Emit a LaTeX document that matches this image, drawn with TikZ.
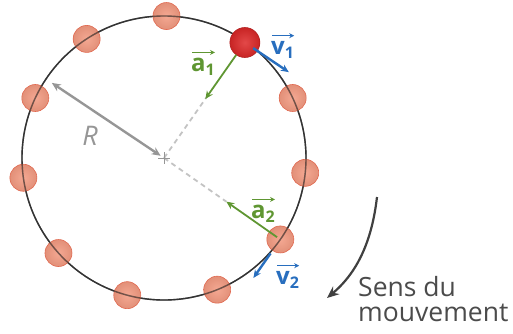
\documentclass[tikz,border=0pt]{standalone}
\usepackage{fontspec}
\setmainfont{Open Sans}
\usetikzlibrary{arrows.meta,calc}
\definecolor{vgreen}{RGB}{95,150,50}
\definecolor{vblue}{RGB}{40,110,190}
\definecolor{rgray}{RGB}{150,150,150}
\definecolor{dgray}{RGB}{195,195,195}
\definecolor{ballfill}{RGB}{240,135,105}
\definecolor{balledge}{RGB}{225,105,80}
\definecolor{redball}{RGB}{222,40,40}
\definecolor{txtgray}{RGB}{75,75,75}
\begin{document}
\begin{tikzpicture}[x=1pt,y=-1pt,
  ball/.style={circle,minimum size=27pt,inner sep=0pt,inner color=ballfill!85!white,outer color=ballfill!92!black,draw=balledge,line width=0.6pt,fill opacity=0.85},
  redb/.style={circle,minimum size=30pt,inner sep=0pt,inner color=redball!85!white,outer color=redball!90!black,draw=redball!80!black,line width=0.6pt},
  accel/.style={vgreen,line width=1.8pt,-{Stealth[length=8pt,width=7pt]}},
  veloc/.style={vblue,line width=2.4pt,-{Stealth[length=8pt,width=7pt]}},
  radial/.style={dgray,line width=1.8pt,dash pattern=on 5pt off 4pt},
  vlabel/.style={inner sep=0pt,anchor=base west,font=\fontsize{24}{24}\selectfont\bfseries},
  overarrow/.style={line width=1.5pt,-{Stealth[length=5pt,width=5pt]}}
]
\useasboundingbox (0,0) rectangle (513,333);
\coordinate (C) at (164,158);
% dashed radial lines
\draw[radial] (C) -- ($(C)+(-55:74)$);
\draw[radial] (C) -- ($(C)+(35:76)$);
% trajectory
\draw[black!80,line width=1.4pt] (C) circle[radius=142];
% balls
\foreach \a/\n in {89/b1,25/b3,-6/b4,-35/b5,-68/b6,-105/b7,-138/b8,-172/b9,155/b10,123/b11}
  \node[ball] (\n) at ($(C)+(-\a:142)$) {};
\draw[black!80,line width=1.4pt,opacity=0.6] (C) circle[radius=142];
\node[redb] (b2) at ($(C)+(-55:141)$) {};
% centre cross
\draw[rgray,line width=1pt] ($(C)+(-6,0)$) -- ($(C)+(6,0)$) ($(C)+(0,-6)$) -- ($(C)+(0,6)$);
% radius arrow
\coordinate (Rs) at ($(C)+(-146.2:135)$);
\coordinate (Re) at ($(C)+(-146.2:4)$);
\draw[rgray,line width=2.4pt,{Stealth[length=9pt,width=8pt]}-{Stealth[length=9pt,width=8pt]}] (Rs) -- (Re);
\node[rgray,font=\fontsize{27}{27}\selectfont\itshape] (R) at (90,136) {R};
% acceleration vectors
\coordinate (a1s) at ($(C)+(-55:126)$);
\coordinate (a1e) at ($(C)+(-55:72)$);
\draw[accel] (a1s) -- (a1e);
\coordinate (a2s) at ($(C)+(35:138)$);
\coordinate (a2e) at ($(C)+(35:76)$);
\draw[accel] (a2s) -- (a2e);
% velocity vectors
\coordinate (v1s) at ($(b2)+(34:10)$);
\coordinate (v1e) at ($(b2)+(34:53)$);
\draw[veloc] (v1s) -- (v1e);
\coordinate (v2s) at ($(b5)+(125:17)$);
\coordinate (v2e) at ($(b5)+(125:47)$);
\draw[veloc] (v2s) -- (v2e);
% labels
\node[vlabel,vgreen] (la1) at (191,71) {a\raisebox{-0.35ex}{\fontsize{16}{16}\selectfont\bfseries 1}};
\draw[overarrow,vgreen] ([yshift=5pt,xshift=1pt]la1.north west) -- ([yshift=5pt]la1.north east);
\node[vlabel,vblue] (lv1) at (271,54) {v\raisebox{-0.35ex}{\fontsize{16}{16}\selectfont\bfseries 1}};
\draw[overarrow,vblue] ([yshift=5pt,xshift=1pt]lv1.north west) -- ([yshift=5pt]lv1.north east);
\node[vlabel,vgreen] (la2) at (251,218) {a\raisebox{-0.35ex}{\fontsize{16}{16}\selectfont\bfseries 2}};
\draw[overarrow,vgreen] ([yshift=5pt,xshift=1pt]la2.north west) -- ([yshift=5pt]la2.north east);
\node[vlabel,vblue] (lv2) at (276,284) {v\raisebox{-0.35ex}{\fontsize{16}{16}\selectfont\bfseries 2}};
\draw[overarrow,vblue] ([yshift=5pt,xshift=1pt]lv2.north west) -- ([yshift=5pt]lv2.north east);
% direction of motion
\coordinate (m1) at (377,197);
\coordinate (m2) at (327,298);
\draw[black!75,line width=2.2pt,-{Stealth[length=12pt,width=10pt]}] (m1) .. controls (372,240) and (358,272) .. (m2);
\node[txtgray,anchor=base west,inner sep=0pt,align=left,font=\fontsize{26.5}{25}\selectfont] (sens) at (358,321) {Sens du\\mouvement};
\end{tikzpicture}
\end{document}
